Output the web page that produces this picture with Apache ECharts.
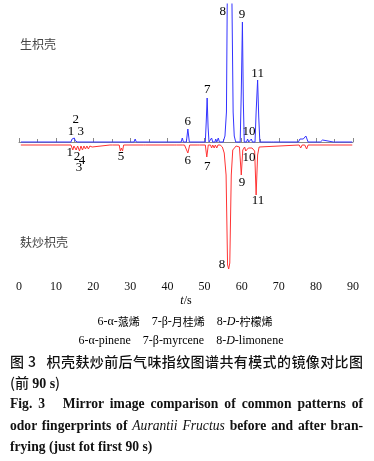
<!DOCTYPE html>
<html>
<head>
<meta charset="utf-8">
<script src="https://cdn.jsdelivr.net/npm/echarts@6/dist/echarts.min.js"></script>
<style>
html,body{margin:0;padding:0;background:#fff;}
#wrap{position:relative;width:374px;height:461px;overflow:hidden;}
#chart{position:absolute;left:0;top:0;width:374px;height:461px;}
.cap{position:absolute;left:10px;width:353px;color:#111;white-space:normal;}
.zh{font-family:"Noto Sans CJK SC",sans-serif;font-weight:500;font-size:14px;line-height:20px;}
.en{font-family:"Liberation Serif","Times New Roman",serif;font-weight:bold;font-size:13.6px;line-height:20px;}
.j{text-align:justify;text-align-last:justify;}
</style>
</head>
<body>
<div id="wrap">
<div id="chart"></div>
<div class="cap zh j" style="top:351px;">图 3&nbsp;&nbsp;&nbsp;枳壳麸炒前后气味指纹图谱共有模式的镜像对比图</div>
<div class="cap zh" style="top:372px;">(前 <span style="font-family:'Liberation Serif',serif;font-weight:bold;">90 s</span>)</div>
<div class="cap en j" style="top:394px;">Fig. 3&nbsp;&nbsp;&nbsp;Mirror image comparison of common patterns of</div>
<div class="cap en j" style="top:416px;">odor fingerprints of <i style="font-weight:normal">Aurantii Fructus</i> before and after bran-</div>
<div class="cap en" style="top:437px;">frying (just fot first 90 s)</div>
</div>
<script>
// ---- data ----
// raw (生枳壳) trace: retention time (s) and intensity (upward)
const blueT = [0.5,14.0,14.3,14.6,14.9,15.2,15.5,15.8,31.0,31.3,31.6,43.7,44.0,44.3,45.1,45.5,45.9,50.2,50.45,50.7,50.95,51.2,51.7,51.9,52.2,52.8,53.0,53.3,53.5,53.7,54.0,55.0,55.5,55.9,56.1,56.7,57.4,57.7,58.0,58.4,59.6,59.9,60.2,60.45,60.7,61.3,61.6,61.9,62.3,62.6,62.9,63.6,63.9,64.3,64.6,64.9,68.0,68.3,68.6,75.3,75.7,76.1,76.6,77.3,77.9,80.5,80.8,81.2,81.8,82.2,84.7,85.0,85.3,89.8];
const blueV = [0,0,3,1,4,1,3,0,0,3,0,0,4,0,0,13,0,0,20,44,15,0,0,4,0,0,3,0,0,4,0,0,6,30,134,350,134,30,6,0,0,50,120,40,0,0,3,0,0,3,0,0,30,62,25,0,0,2,0,0,3,1,3,6,0,0,2,0,2,0,0,2,0,0];
// bran-fried (麸炒枳壳) trace: retention time (s) and intensity (drawn downward)
const redT = [0.5,14.0,14.5,14.8,15.4,15.8,16.3,16.7,17.1,17.5,17.9,18.3,18.7,19.1,19.7,20.2,24.5,24.8,25.2,27.0,27.3,27.6,27.9,28.2,33.5,33.8,34.1,41.8,42.1,42.4,44.0,44.3,44.6,45.0,45.5,46.0,48.0,48.3,48.6,50.2,50.6,51.0,51.6,51.9,52.2,52.6,52.9,53.3,53.6,54.2,54.8,55.3,55.8,56.2,56.5,56.8,57.2,57.6,58.0,58.5,59.4,59.9,60.3,60.8,61.1,61.4,61.8,62.3,62.8,63.5,63.9,64.3,64.7,65.2,75.5,75.9,76.3,77.0,77.5,77.9,89.8];
const redV = [0,0,5,1,5,1,6,1,5,1,4,1,4,1,2,0,0,1,0,0,6,3,6,0,0,2,0,0,2,0,0,2,0,0,8,0,0,1,0,0,12,0,0,3,0,3,0,3,0,0,2,8,30,120,124,118,30,5,3,1,2,30,5,2,6,7,3,2,3,6,50,10,2,0,0,3,0,0,4,0,0];
// x axis
const xTicks = [0,10,20,30,40,50,60,70,80,90];
// peak labels: [text, time (s), label height in trace units]
const blueLabels = [['2',15.3,22],['1 3',15.3,10],['6',45.5,20],['7',50.7,52],['8',54.9,130],['9',60.1,127],['10',62.0,10],['11',64.3,68]];
const redLabels = [['1',13.7,-11],['2',15.6,-15],['3',16.2,-26],['4',17.0,-19],['5',27.5,-15],['6',45.5,-19],['7',50.7,-25],['8',54.7,-123],['9',60.1,-41],['10',62.0,-16],['11',64.4,-59]];
const sampleNames = ['生枳壳','麸炒枳壳'];

const RED_BASE = -3;
const blueData = blueT.map((t,i)=>[t, blueV[i]]);
const redData = redT.map((t,i)=>[t, RED_BASE - redV[i]]);
function lblSeries(arr){
  return {type:'scatter',symbolSize:0,silent:true,z:5,
    itemStyle:{color:'#000',opacity:1},
    data:arr.map(a=>({value:[a[1],a[2]],name:a[0]})),
    label:{show:true,position:'inside',formatter:p=>p.name,
      fontFamily:'"Liberation Serif","Times New Roman",serif',fontSize:13,
      color:'#000',textBorderWidth:0,textBorderColor:'transparent',opacity:1}};
}
const chart = echarts.init(document.getElementById('chart'),null,{renderer:'canvas'});
chart.setOption({
  animation:false,
  grid:{left:19,right:21,top:4,height:273},
  xAxis:{type:'value',min:xTicks[0],max:xTicks[xTicks.length-1],interval:10,
    axisLine:{lineStyle:{color:'#888',width:1}},
    axisTick:{inside:true,length:4,lineStyle:{color:'#888'}},
    minorTick:{show:true,splitNumber:2,length:3,lineStyle:{color:'#888'}},
    splitLine:{show:false},
    axisLabel:{margin:4,fontFamily:'"Liberation Serif","Times New Roman",serif',fontSize:12,color:'#111'}},
  yAxis:{type:'value',min:-135,max:138,show:false,splitLine:{show:false}},
  series:[
    {type:'line',data:blueData,showSymbol:false,lineStyle:{color:'#3333ff',width:1},z:3},
    {type:'line',data:redData,showSymbol:false,lineStyle:{color:'#ff3333',width:1},z:2},
    lblSeries(blueLabels), lblSeries(redLabels)
  ],
  graphic:[
    {type:'text',left:20,top:38,style:{text:sampleNames[0],font:'12px "Noto Sans CJK SC",sans-serif',fill:'#444'}},
    {type:'text',left:20,top:236,style:{text:sampleNames[1],font:'12px "Noto Sans CJK SC",sans-serif',fill:'#444'}},
    {type:'text',x:186,y:301,style:{text:'{i|t}{n|/s}',align:'center',verticalAlign:'middle',
      rich:{i:{fontFamily:'"Liberation Serif",serif',fontStyle:'italic',fontSize:12,color:'#111'},n:{fontFamily:'"Liberation Serif",serif',fontSize:12,color:'#111'}}}},
    {type:'text',x:185,y:322,style:{text:'{n|6-α-}{c|蒎烯}{n|    7-β-}{c|月桂烯}{n|    8-}{i|D}{n|-}{c|柠檬烯}',align:'center',verticalAlign:'middle',
      rich:{n:{fontFamily:'"Liberation Serif",serif',fontSize:12,color:'#111'},i:{fontFamily:'"Liberation Serif",serif',fontStyle:'italic',fontSize:12,color:'#111'},c:{fontFamily:'"Noto Sans CJK SC",sans-serif',fontSize:11,color:'#222'}}}},
    {type:'text',x:181,y:341,style:{text:'{n|6-α-pinene    7-β-myrcene    8-}{i|D}{n|-limonene}',align:'center',verticalAlign:'middle',
      rich:{n:{fontFamily:'"Liberation Serif",serif',fontSize:12,color:'#111'},i:{fontFamily:'"Liberation Serif",serif',fontStyle:'italic',fontSize:12,color:'#111'}}}}
  ]
});
</script>
</body>
</html>
